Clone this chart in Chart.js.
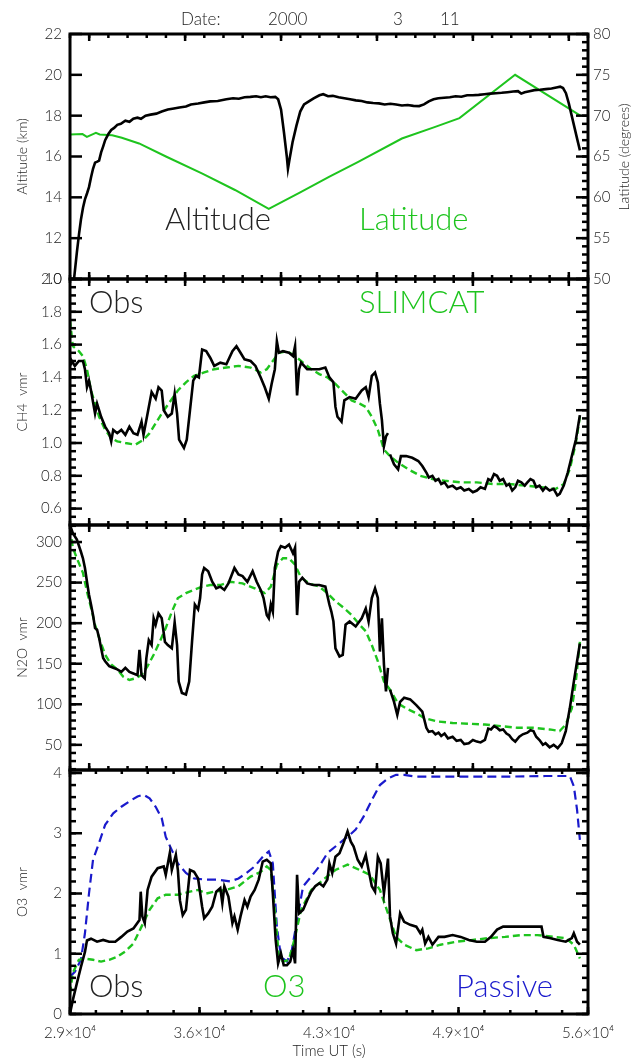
<!DOCTYPE html>
<html>
<head>
<meta charset="utf-8">
<script src="https://cdn.jsdelivr.net/npm/chart.js@4.4.1/dist/chart.umd.min.js"></script>
<style>
  html, body { margin: 0; padding: 0; background: #fff; }
  #wrap { position: relative; width: 636px; height: 1061px; overflow: hidden; }
  #wrap canvas { position: absolute; left: 0; }
</style>
</head>
<body>
<div id="wrap">
  <canvas id="c1" width="636" height="300" style="top:0px"></canvas>
  <canvas id="c2" width="636" height="285" style="top:260px"></canvas>
  <canvas id="c3" width="636" height="285" style="top:505px"></canvas>
  <canvas id="c4" width="636" height="311" style="top:750px"></canvas>
</div>
<script>
// --- data (time in seconds UT) ---

// panel 1: altitude (km) and latitude (deg)
const altTime = [29150,29211,29358,29470,29569,29680,29779,29890,29990,30100,
  30200,30306,30420,30516,30622,30730,30832,31000,31148,31300,
  31464,31650,31885,32100,32300,32517,32700,32938,33200,33500,
  33781,34100,34413,34700,35044,35300,35676,36000,36308,36700,
  37150,37500,37800,38100,38400,38700,38950,39200,39450,39700,
  39850,40000,40150,40300,40360,40450,40600,40800,41000,41200,
  41450,41700,42000,42200,42450,42700,43000,43300,43600,43900,
  44200,44500,44800,45100,45400,45700,46000,46300,46600,46900,
  47200,47450,47700,47950,48200,48500,48800,49100,49400,49700,
  50000,50300,50600,50900,51200,51500,51800,52100,52350,52520,
  52700,52950,53200,53500,53800,54100,54350,54550,54700,54850,
  55000,55150,55300,55450,55580];
const altValue = [9.6,10.0,11.3,12.2,12.9,13.5,13.9,14.2,14.5,15.0,
  15.4,15.7,15.75,15.8,16.2,16.5,16.8,17.1,17.3,17.4,
  17.55,17.6,17.75,17.7,17.85,17.9,17.85,18.0,18.05,18.1,
  18.2,18.3,18.35,18.4,18.45,18.55,18.6,18.65,18.7,18.72,
  18.8,18.85,18.83,18.9,18.92,18.95,18.9,18.95,18.9,18.92,
  18.8,18.3,17.2,16.0,15.4,15.9,16.7,17.5,18.2,18.55,
  18.7,18.85,19.0,19.05,18.95,18.97,18.9,18.85,18.8,18.75,
  18.72,18.65,18.62,18.6,18.55,18.58,18.55,18.5,18.52,18.48,
  18.47,18.55,18.7,18.8,18.85,18.88,18.9,18.95,18.93,19.0,
  19.0,19.02,19.05,19.08,19.1,19.12,19.15,19.18,19.2,19.08,
  19.15,19.2,19.25,19.27,19.3,19.33,19.38,19.42,19.35,19.1,
  18.6,18.0,17.4,16.8,16.3];

const latTime = [29000,29650,29880,30200,30350,30550,31200,31700,32600,34000,35900,
  37600,39360,41000,42500,44000,46300,48000,49300,52200,55600];
const latValue = [67.7,67.75,67.4,67.75,67.9,67.7,67.6,67.3,66.6,65.0,62.9,
  60.9,58.6,60.6,62.5,64.3,67.2,68.6,69.7,75.0,70.0];

// panel 2: CH4
const ch4ObsTime = [29000,29042,29253,29463,29674,29779,29885,29990,30095,30200,30306,
  30411,30516,30622,30832,31043,31148,31253,31464,31675,31885,
  32096,32306,32517,32728,32833,33044,33254,33465,33612,33781,
  33886,34097,34307,34455,34581,34686,34939,35086,35255,35423,
  35571,35718,35887,36097,36308,36518,36834,37150,37466,37677,
  37887,38098,38414,38667,38941,39151,39362,39509,39677,39783,
  39888,40099,40415,40625,40731,40836,40941,41046,41362,41678,
  41994,42310,42520,42731,42836,42941,43152,43300,43574,43889,
  44205,44416,44563,44731,44900,45047,45153,45258,45364,45469,
  45574,45620,45680,45890,46101,46248,46522,46838,47154,47364,
  47575,47700,47891,48050,48207,48350,48522,48700,48943,49150,
  49365,49550,49786,50000,50207,50400,50628,50800,50944,51100,
  51260,51400,51576,51750,51892,52050,52208,52350,52524,52700,
  52840,53000,53156,53300,53472,53650,53787,54000,54209,54400,
  54525,54736,54946,55157,55367,55577];
const ch4ObsValue = [1.48,1.51,1.47,1.50,1.50,1.45,1.34,1.38,1.32,1.25,1.18,
  1.24,1.20,1.16,1.10,1.06,1.01,1.08,1.06,1.08,1.05,
  1.10,1.06,1.05,1.13,1.05,1.18,1.31,1.27,1.34,1.32,
  1.20,1.16,1.18,1.30,1.18,1.02,0.97,1.02,1.20,1.38,
  1.41,1.40,1.57,1.56,1.52,1.47,1.49,1.48,1.56,1.59,
  1.55,1.51,1.50,1.47,1.40,1.34,1.27,1.36,1.45,1.62,
  1.55,1.56,1.55,1.53,1.59,1.29,1.45,1.49,1.45,1.45,
  1.45,1.46,1.40,1.37,1.22,1.16,1.13,1.26,1.28,1.27,
  1.32,1.34,1.28,1.41,1.43,1.37,1.24,1.14,0.98,1.04,
  1.06,null,0.93,0.87,0.84,0.92,0.92,0.91,0.89,0.86,
  0.82,0.79,0.80,0.77,0.78,0.75,0.76,0.73,0.74,0.72,
  0.73,0.71,0.72,0.70,0.71,0.73,0.72,0.78,0.77,0.81,
  0.80,0.77,0.78,0.74,0.75,0.71,0.73,0.77,0.76,0.74,
  0.76,0.78,0.77,0.73,0.74,0.71,0.73,0.71,0.72,0.68,
  0.69,0.74,0.82,0.92,1.02,1.17];

const ch4ModTime = [29000,29147,29463,29674,29885,30095,30306,30516,30832,31148,
  31464,31885,32412,32833,33149,33465,33781,34202,34623,35044,
  35466,35992,36518,37150,37782,38414,38941,39256,39572,39888,
  40309,40731,41151,41573,41994,42415,42836,43258,43679,44100,
  44416,44731,45047,45364,45680,46101,46627,47259,47891,48522,
  49365,50207,51049,51892,52734,53577,54314,54736,55051,55367,55577];
const ch4ModValue = [1.75,1.59,1.56,1.53,1.45,1.32,1.24,1.16,1.08,1.03,
  1.01,1.00,0.99,1.02,1.06,1.12,1.18,1.25,1.32,1.37,
  1.41,1.43,1.45,1.46,1.47,1.46,1.43,1.45,1.50,1.55,
  1.56,1.53,1.49,1.45,1.42,1.40,1.36,1.31,1.26,1.24,
  1.22,1.16,1.08,0.96,0.92,0.88,0.84,0.80,0.78,0.77,
  0.76,0.76,0.75,0.75,0.74,0.73,0.72,0.75,0.84,1.00,1.16];

// panel 3: N2O
const n2oObsTime = [29000,29147,29358,29569,29674,29779,29885,29990,30095,30200,
  30306,30411,30516,30622,30727,30832,31043,31253,31464,31675,
  31885,32096,32306,32517,32622,32728,32896,32980,33107,33254,
  33360,33465,33612,33781,33949,34097,34307,34455,34581,34665,
  34833,35044,35213,35360,35508,35676,35781,35887,35992,36203,
  36413,36624,36834,37045,37256,37571,37782,37993,38245,38519,
  38730,38941,39088,39256,39362,39467,39572,39677,39846,39993,
  40204,40415,40625,40731,40836,40941,41110,41362,41678,41994,
  42310,42520,42626,42731,42836,43047,43216,43363,43574,43889,
  44205,44416,44563,44731,44900,45047,45153,45258,45364,45469,
  45574,45620,45680,45890,46059,46206,46417,46733,47049,47364,
  47575,47700,47891,48050,48207,48350,48522,48700,48943,49150,
  49365,49550,49786,50000,50207,50400,50628,50800,50944,51100,
  51260,51400,51576,51750,51892,52050,52208,52419,52600,52840,
  53000,53156,53300,53472,53650,53787,54000,54209,
  54420,54630,54841,55051,55262,55430,55577];
const n2oObsValue = [321,311,303,288,280,268,251,235,223,210,
  194,192,182,169,157,153,147,145,143,140,
  145,140,138,136,167,136,132,157,179,173,
  206,198,212,206,177,173,169,201,173,128,
  114,112,128,177,223,217,231,260,268,264,
  251,243,245,241,249,268,260,258,251,264,
  251,241,231,210,206,223,214,268,288,295,
  293,297,286,293,210,251,256,249,247,247,
  245,223,214,202,169,159,161,198,202,196,
  206,218,202,231,243,231,165,206,149,116,
  145,null,118,103,87,103,108,106,99,91,
  71,66,67,63,65,61,64,58,60,55,
  56,51,52,56,54,53,56,70,69,73,
  71,68,69,64,62,57,54,60,63,65,
  68,67,60,56,50,52,47,50,
  46,52,67,95,128,153,175];

const n2oModTime = [29000,29147,29358,29674,29885,30095,30306,30516,30832,31148,
  31464,31780,32096,32412,32728,33044,33360,33676,33991,34307,
  34623,35044,35466,35887,36308,36834,37361,37993,38625,39151,
  39467,39783,40099,40415,40731,41046,41467,41994,42415,42836,
  43258,43679,44100,44416,44731,45047,45364,45680,46101,46522,
  47049,47469,48101,48943,49786,50628,51471,52313,53156,53998,
  54525,54841,55157,55367,55577];
const n2oModValue = [317,293,280,262,239,219,198,182,161,149,
  143,134,130,132,136,147,161,177,194,214,
  231,237,241,245,247,247,251,249,243,237,
  245,272,280,280,272,256,249,245,237,227,
  219,210,198,190,173,153,128,118,101,95,
  89,83,79,77,76,75,73,71,71,69,
  67,75,95,128,177];

// panel 4: O3
const o3ObsTime = [29000,29147,29358,29569,29779,29885,30095,30411,30727,31043,
  31359,31675,31990,32306,32622,32686,32770,32896,33044,33254,
  33570,33886,33991,34202,34307,34518,34623,34728,34876,35044,
  35255,35466,35676,35887,35992,36203,36413,36624,36834,36940,
  37045,37256,37466,37571,37740,37887,38098,38245,38414,38625,
  38835,39046,39256,39467,39572,39720,39846,39993,40141,40309,
  40478,40625,40731,40836,40941,41151,41362,41573,41783,41994,
  42205,42415,42520,42668,42836,43047,43258,43468,43637,43784,
  43995,44205,44416,44563,44731,44900,45047,45195,45364,45469,
  45574,45680,45827,45996,46206,46417,46733,47049,47259,47364,
  47512,47680,47891,48207,48522,48943,49365,49786,50207,50628,
  50944,51260,51576,51892,52313,52734,53156,53577,53682,53998,
  54420,54841,55157,55262,55430,55577];
const o3ObsValue = [0.01,0.23,0.51,0.78,1.03,1.22,1.25,1.20,1.23,1.20,
  1.20,1.28,1.37,1.42,1.56,2.03,1.62,1.51,2.06,2.28,
  2.42,2.45,2.31,2.67,2.39,2.64,2.39,1.89,1.64,1.73,
  2.39,2.36,2.25,1.78,1.59,1.67,1.78,2.03,2.09,1.84,
  2.12,1.95,1.51,1.62,1.40,1.62,1.89,1.78,1.95,2.06,
  2.23,2.53,2.56,2.50,2.00,1.23,0.84,1.01,0.81,0.81,
  0.87,1.06,0.84,2.31,1.67,1.73,1.89,2.03,2.12,2.17,
  2.12,2.23,2.50,2.34,2.61,2.67,2.84,3.03,2.86,2.78,
  2.56,2.45,2.64,2.39,2.12,2.03,2.61,2.50,2.00,2.28,
  2.58,1.62,1.34,1.17,1.67,1.53,1.48,1.45,1.34,1.40,
  1.17,1.28,1.15,1.28,1.28,1.31,1.28,1.23,1.20,1.20,
  1.28,1.40,1.45,1.45,1.45,1.45,1.45,1.45,1.28,1.26,
  1.23,1.20,1.26,1.34,1.20,1.15];

const o3ModTime = [29000,29147,29463,29779,30200,30622,31043,31464,31885,32306,
  32728,33149,33570,33991,34623,35255,35676,36097,36518,37150,
  37782,38414,38941,39256,39467,39677,39888,40099,40415,40731,
  41046,41573,42205,42836,43468,44100,44626,45153,45574,45996,
  46417,47049,47680,48312,49154,49997,50839,51681,52524,53366,
  54209,54841,55262,55577];
const o3ModValue = [0.34,0.68,0.90,0.92,0.90,0.87,0.90,0.95,1.04,1.17,
  1.45,1.73,1.92,1.98,1.98,2.03,2.06,2.00,2.03,2.06,
  2.12,2.28,2.36,2.45,2.39,1.73,0.95,0.87,0.90,1.28,
  1.73,2.06,2.23,2.39,2.48,2.39,2.31,2.06,1.67,1.28,
  1.15,1.06,1.09,1.15,1.20,1.23,1.26,1.28,1.31,1.31,
  1.28,1.26,1.15,0.92];

const passiveTime = [29000,29253,29569,29779,29990,30200,30516,30832,31253,31675,
  32096,32517,32833,33149,33465,33781,33991,34307,34623,35044,
  35466,36097,36729,37361,37782,38203,38625,39046,39362,39572,
  39783,39993,40309,40562,40836,41151,41573,41994,42415,42836,
  43258,43574,43889,44310,44731,45153,45574,45996,46417,47049,
  48101,49576,51681,53787,55051,55262,55430,55577];
const passiveValue = [0.62,0.70,0.90,1.34,2.00,2.56,2.84,3.14,3.33,3.44,
  3.53,3.61,3.64,3.58,3.44,3.25,2.94,2.72,2.50,2.34,
  2.25,2.23,2.23,2.20,2.25,2.34,2.45,2.61,2.70,2.50,
  1.45,0.95,0.87,1.06,1.56,2.12,2.28,2.45,2.67,2.78,
  2.89,2.97,3.06,3.28,3.55,3.80,3.91,3.97,3.97,3.94,
  3.94,3.94,3.94,3.95,3.95,3.78,3.39,2.89];

// tick values / labels
const xTickValues = [29000, 35750, 42500, 49250, 56000];
const xTickLabels = ['2.9\u00d710\u2074', '3.6\u00d710\u2074', '4.3\u00d710\u2074', '4.9\u00d710\u2074', '5.6\u00d710\u2074'];
const upperXMajor = [30000, 35000, 40000, 45000, 50000, 55000];
const altTicks = [10, 12, 14, 16, 18, 20, 22];
const altLabels = ['10', '12', '14', '16', '18', '20', '22'];
const latTicks = [50, 55, 60, 65, 70, 75, 80];
const latLabels = ['50', '55', '60', '65', '70', '75', '80'];
const ch4Ticks = [0.6, 0.8, 1.0, 1.2, 1.4, 1.6, 1.8, 2.0];
const ch4Labels = ['0.6', '0.8', '1.0', '1.2', '1.4', '1.6', '1.8', '2.0'];
const n2oTicks = [50, 100, 150, 200, 250, 300];
const n2oLabels = ['50', '100', '150', '200', '250', '300'];
const o3Ticks = [0, 1, 2, 3, 4];
const o3Labels = ['0', '1', '2', '3', '4'];

// --- styling ---
const FONT = "Lato, Inter, 'DejaVu Sans', sans-serif";
const INK = '#222';
const GREEN = '#1ec41e';
const BLUE = '#1a1acc';
Chart.defaults.font.family = FONT;
Chart.defaults.font.weight = 300;
Chart.defaults.color = INK;

function pts(t, v) { return t.map((x, i) => ({ x: x, y: v[i] })); }
function steps(a, b, d) {
  const out = [];
  const n = Math.round((b - a) / d);
  for (let i = 0; i <= n; i++) out.push(a + i * d);
  return out;
}

// per-canvas axis decoration (IDL style inward ticks) and free text
const decor = {
  c1: {
    xMajor: upperXMajor, xMinor: steps(29000, 56000, 1000),
    yTicks: [
      { id: 'y', vals: altTicks, len: 12, side: 'left' },
      { id: 'lat', vals: latTicks, len: 12, side: 'right' },
      { id: 'lat', vals: steps(50, 80, 1), len: 6, side: 'right' }
    ],
    texts: [
      { text: 'Date:', x: 181, y: 25, size: 17 },
      { text: '2000', x: 268, y: 25, size: 17 },
      { text: '3', x: 393, y: 25, size: 17 },
      { text: '11', x: 440, y: 25, size: 17 },
      { text: 'Altitude', x: 165, y: 230, size: 31 },
      { text: 'Latitude', x: 359, y: 230, size: 31, color: GREEN },
      { text: 'Latitude (degrees)', x: 624, y: 157, size: 14, rot: -Math.PI / 2, align: 'center', base: 'middle' }
    ]
  },
  c2: {
    xMajor: upperXMajor, xMinor: steps(29000, 56000, 1000),
    yTicks: [
      { id: 'y', vals: ch4Ticks, len: 12, side: 'both' },
      { id: 'y', vals: steps(0.5, 2.0, 0.05), len: 6, side: 'both' }
    ],
    texts: [
      { text: 'Obs', x: 89, y: 53, size: 31 },
      { text: 'SLIMCAT', x: 359, y: 53, size: 31, color: GREEN }
    ]
  },
  c3: {
    xMajor: upperXMajor, xMinor: steps(29000, 56000, 1000),
    yTicks: [
      { id: 'y', vals: n2oTicks, len: 12, side: 'both' },
      { id: 'y', vals: steps(20, 320, 10), len: 6, side: 'both' }
    ],
    texts: []
  },
  c4: {
    xMajor: xTickValues, xMinor: steps(29000, 56000, 1350),
    yTicks: [
      { id: 'y', vals: o3Ticks, len: 12, side: 'both' },
      { id: 'y', vals: steps(0, 4, 0.2), len: 6, side: 'both' }
    ],
    texts: [
      { text: 'Obs', x: 89, y: 247, size: 31 },
      { text: 'O3', x: 263, y: 247, size: 31, color: GREEN },
      { text: 'Passive', x: 456, y: 247, size: 31, color: BLUE }
    ]
  }
};

const frameTicks = {
  id: 'frameTicks',
  afterDraw(chart) {
    const d = decor[chart.canvas.id];
    const { ctx, chartArea: a, scales } = chart;
    ctx.save();
    ctx.setLineDash([]);
    ctx.strokeStyle = '#000';
    ctx.lineWidth = 3;
    ctx.strokeRect(a.left, a.top, a.right - a.left, a.bottom - a.top);
    ctx.fillStyle = '#000';
    const xs = scales.x;
    const xt = (vals, len) => {
      for (const v of vals) {
        const px = xs.getPixelForValue(v);
        ctx.fillRect(px - 1.25, a.bottom - len, 2.5, len);
        ctx.fillRect(px - 1.25, a.top, 2.5, len);
      }
    };
    xt(d.xMajor, 7);
    xt(d.xMinor, 4);
    for (const g of d.yTicks) {
      const s = scales[g.id];
      for (const v of g.vals) {
        const py = s.getPixelForValue(v);
        if (g.side !== 'right') ctx.fillRect(a.left, py - 1.25, g.len, 2.5);
        if (g.side !== 'left') ctx.fillRect(a.right - g.len, py - 1.25, g.len, 2.5);
      }
    }
    for (const t of d.texts) {
      ctx.save();
      ctx.fillStyle = t.color || INK;
      ctx.font = '300 ' + t.size + 'px ' + FONT;
      ctx.translate(t.x, t.y);
      if (t.rot) ctx.rotate(t.rot);
      ctx.textAlign = t.align || 'left';
      ctx.textBaseline = t.base || 'alphabetic';
      ctx.fillText(t.text, 0, 0);
      ctx.restore();
    }
    ctx.restore();
  }
};

function leftAxis(min, max, ticks, labels, title) {
  return {
    type: 'linear', position: 'left', min: min, max: max,
    afterBuildTicks: s => { s.ticks = ticks.map(v => ({ value: v })); },
    afterFit: s => { s.width = 70; },
    grid: { display: false, drawTicks: false },
    border: { display: false },
    ticks: { callback: (v, i) => labels[i], padding: 8, autoSkip: false, font: { size: 15 } },
    title: { display: true, text: title, font: { size: 14 }, padding: { top: 14, bottom: 0 } }
  };
}
const hiddenX = { type: 'linear', min: 29000, max: 56000, display: false };

function line(data, color, width, dash) {
  return {
    data: data, borderColor: color, borderWidth: width, borderDash: dash || [],
    pointRadius: 0, tension: 0, spanGaps: false, fill: false
  };
}

function baseOptions(pad, scales) {
  return {
    responsive: false, animation: false,
    layout: { padding: pad },
    plugins: { legend: { display: false }, tooltip: { enabled: false } },
    scales: scales
  };
}

// panel 1
new Chart(document.getElementById('c1'), {
  type: 'line',
  data: { datasets: [
    Object.assign(line(pts(altTime, altValue), '#000', 2.6), { yAxisID: 'y' }),
    Object.assign(line(pts(latTime, latValue), GREEN, 2), { yAxisID: 'lat' })
  ] },
  options: baseOptions({ top: 34, bottom: 21, left: 0, right: 0 }, {
    x: hiddenX,
    y: leftAxis(10, 22, altTicks, altLabels, 'Altitude (km)'),
    lat: {
      type: 'linear', position: 'right', min: 50, max: 80,
      afterBuildTicks: s => { s.ticks = latTicks.map(v => ({ value: v })); },
      afterFit: s => { s.width = 48; },
      grid: { display: false, drawTicks: false },
      border: { display: false },
      ticks: { callback: (v, i) => latLabels[i], padding: 5, autoSkip: false, font: { size: 15 } }
    }
  }),
  plugins: [frameTicks]
});

// panel 2
new Chart(document.getElementById('c2'), {
  type: 'line',
  data: { datasets: [
    line(pts(ch4ObsTime, ch4ObsValue), '#000', 2.6),
    line(pts(ch4ModTime, ch4ModValue), GREEN, 2.4, [7, 4])
  ] },
  options: baseOptions({ top: 19, bottom: 20, left: 0, right: 48 }, {
    x: hiddenX,
    y: leftAxis(0.5, 2.0, ch4Ticks, ch4Labels, 'CH4  vmr')
  }),
  plugins: [frameTicks]
});

// panel 3
new Chart(document.getElementById('c3'), {
  type: 'line',
  data: { datasets: [
    line(pts(n2oObsTime, n2oObsValue), '#000', 2.6),
    line(pts(n2oModTime, n2oModValue), GREEN, 2.4, [7, 4])
  ] },
  options: baseOptions({ top: 20, bottom: 20, left: 0, right: 48 }, {
    x: hiddenX,
    y: leftAxis(19, 321, n2oTicks, n2oLabels, 'N2O  vmr')
  }),
  plugins: [frameTicks]
});

// panel 4
new Chart(document.getElementById('c4'), {
  type: 'line',
  data: { datasets: [
    line(pts(o3ObsTime, o3ObsValue), '#000', 2.6),
    line(pts(o3ModTime, o3ModValue), GREEN, 2.4, [7, 4]),
    line(pts(passiveTime, passiveValue), BLUE, 2.2, [9, 5])
  ] },
  options: baseOptions({ top: 20, bottom: 0, left: 0, right: 48 }, {
    x: {
      type: 'linear', position: 'bottom', min: 29000, max: 56000,
      afterBuildTicks: s => { s.ticks = xTickValues.map(v => ({ value: v })); },
      afterFit: s => { s.height = 47; },
      grid: { display: false, drawTicks: false },
      border: { display: false },
      ticks: { callback: (v, i) => xTickLabels[i], padding: 10, maxRotation: 0, autoSkip: false, font: { size: 15 } },
      title: { display: true, text: 'Time UT (s)', font: { size: 15 }, padding: { top: 0, bottom: 1 } }
    },
    y: leftAxis(0, 4.05, o3Ticks, o3Labels, 'O3  vmr')
  }),
  plugins: [frameTicks]
});
</script>
</body>
</html>
